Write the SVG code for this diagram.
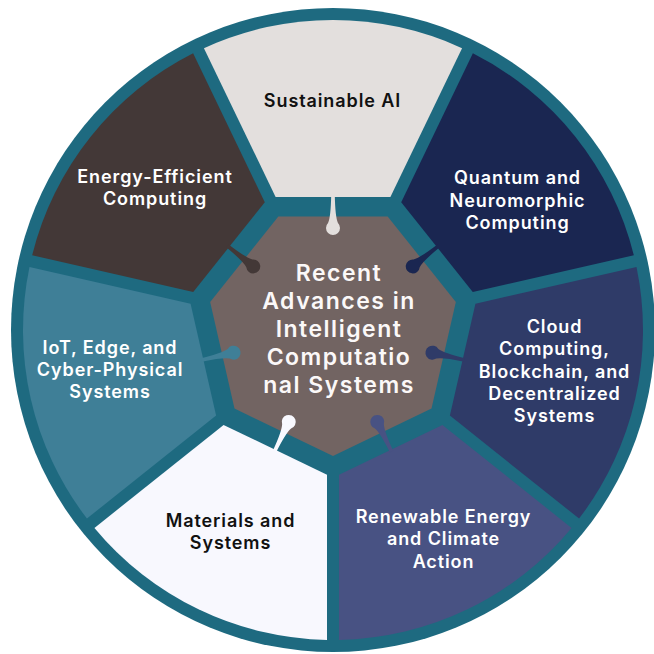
<svg xmlns="http://www.w3.org/2000/svg" xmlns:xlink="http://www.w3.org/1999/xlink" width="654" height="654" viewBox="0 0 654 654">
<style>
text{font-family:Inter,"Noto Sans","Liberation Sans",sans-serif;font-weight:600;text-anchor:middle}
.lbl{font-size:18px;letter-spacing:0.9px}
.dark{fill:#111111}
.light{fill:#ffffff}
.ctr{font-size:23px;letter-spacing:1.5px;fill:#fbf8f8}
</style>
<defs>
<path id="seg" d="M133,-57.39 L281.85,-129.07 A310,310 0 0 1 281.85,129.07 L133,57.39 Z"/>
<path id="pin" d="M135,-1.8 L135,1.8 Q113,2.2 106.95,4.95 A7,7 0 1 1 106.95,-4.95 Q113,-2.2 135,-1.8 Z"/>
</defs>
<rect width="654" height="654" fill="#ffffff"/>
<circle id="ring" cx="333" cy="330" r="322" fill="#1e6a80"/>
<g id="sustainable-ai">
<use xlink:href="#seg" href="#seg" transform="translate(333 330) rotate(-90)" fill="#e3dfdd"/>
<text class="lbl dark" x="332.5" y="107">Sustainable AI</text>
</g>
<g id="quantum">
<use xlink:href="#seg" href="#seg" transform="translate(333 330) rotate(-38.571)" fill="#1a2651"/>
<text class="lbl light" x="517.5" y="184">Quantum and</text>
<text class="lbl light" x="517.5" y="206.5">Neuromorphic</text>
<text class="lbl light" x="517.5" y="229">Computing</text>
</g>
<g id="cloud">
<use xlink:href="#seg" href="#seg" transform="translate(333 330) rotate(12.857)" fill="#2f3b68"/>
<text class="lbl light" x="554.5" y="332.5">Cloud</text>
<text class="lbl light" x="554.5" y="355">Computing,</text>
<text class="lbl light" x="554.5" y="377.5">Blockchain, and</text>
<text class="lbl light" x="554.5" y="400">Decentralized</text>
<text class="lbl light" x="554.5" y="422">Systems</text>
</g>
<g id="renewable">
<use xlink:href="#seg" href="#seg" transform="translate(333 330) rotate(64.286)" fill="#485283"/>
<text class="lbl light" x="443.5" y="523">Renewable Energy</text>
<text class="lbl light" x="443.5" y="545">and Climate</text>
<text class="lbl light" x="443.5" y="567.5">Action</text>
</g>
<g id="materials">
<use xlink:href="#seg" href="#seg" transform="translate(333 330) rotate(115.714)" fill="#f8f8fe"/>
<text class="lbl dark" x="230.5" y="527">Materials and</text>
<text class="lbl dark" x="230.5" y="549">Systems</text>
</g>
<g id="iot">
<use xlink:href="#seg" href="#seg" transform="translate(333 330) rotate(167.143)" fill="#3f7f97"/>
<text class="lbl light" x="110" y="353.5">IoT, Edge, and</text>
<text class="lbl light" x="110" y="376">Cyber-Physical</text>
<text class="lbl light" x="110" y="398">Systems</text>
</g>
<g id="energy">
<use xlink:href="#seg" href="#seg" transform="translate(333 330) rotate(218.571)" fill="#433837"/>
<text class="lbl light" x="155" y="183">Energy-Efficient</text>
<text class="lbl light" x="155" y="205">Computing</text>
</g>
<g id="center">
<polygon points="333,456 234.49,408.56 210.16,301.96 278.33,216.48 387.67,216.48 455.84,301.96 431.51,408.56" fill="#726462"/>
<text class="ctr" x="339" y="281">Recent</text>
<text class="ctr" x="339" y="309">Advances in</text>
<text class="ctr" x="339" y="337">Intelligent</text>
<text class="ctr" x="339" y="365">Computatio</text>
<text class="ctr" x="339" y="392.5">nal Systems</text>
</g>
<g id="connectors">
<use xlink:href="#pin" href="#pin" transform="translate(333 330) rotate(-90)" fill="#e3dfdd"/>
<use xlink:href="#pin" href="#pin" transform="translate(333 330) rotate(-38.571)" fill="#1a2651"/>
<use xlink:href="#pin" href="#pin" transform="translate(333 330) rotate(12.857)" fill="#2f3b68"/>
<use xlink:href="#pin" href="#pin" transform="translate(333 330) rotate(64.286)" fill="#485283"/>
<use xlink:href="#pin" href="#pin" transform="translate(333 330) rotate(115.714)" fill="#f8f8fe"/>
<use xlink:href="#pin" href="#pin" transform="translate(333 330) rotate(167.143)" fill="#3f7f97"/>
<use xlink:href="#pin" href="#pin" transform="translate(333 330) rotate(218.571)" fill="#433837"/>
</g>
</svg>
